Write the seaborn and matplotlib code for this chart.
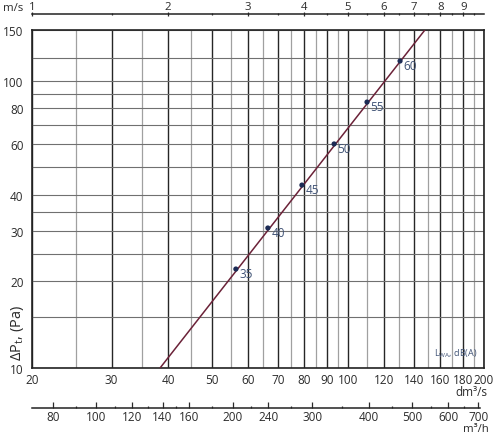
import numpy as np
import pandas as pd
import matplotlib
matplotlib.use('Agg')
import matplotlib.pyplot as plt
import seaborn as sns
from matplotlib.ticker import FixedLocator, NullFormatter

# ---- data ----
flow_line = [38.4, 148.0]          # dm3/s
dp_line = [10.0, 150.0]            # Pa
flow_pts = [56.5, 66.5, 79.1, 93.2, 110.2, 130.4]
dp_pts = [22.1, 30.7, 43.3, 60.2, 84.2, 117.0]
lwa_labels = ['35', '40', '45', '50', '55', '60']

x_major = [20, 30, 40, 50, 60, 70, 80, 90, 100, 120, 140, 160, 180, 200]
x_minor = [25, 35, 45, 55, 65, 75, 85, 95, 110, 130, 150, 170, 190]
y_ticks = [10, 20, 30, 40, 60, 80, 100, 150]
y_minor = [15, 25, 35, 50, 70, 90, 120]
v_major = [1, 2, 3, 4, 5, 6, 7, 8, 9]
v_minor = [1.5, 2.5, 3.5, 4.5, 5.5, 6.5, 7.5, 8.5, 9.5]
q_major = [80, 100, 120, 140, 160, 200, 240, 300, 400, 500, 600, 700]
q_minor = [90, 110, 130, 150, 180, 220, 270, 350, 450, 550, 650]

sns.set_style('white')
plt.rcParams['font.family'] = ['Open Sans', 'DejaVu Sans']
plt.rcParams['mathtext.fontset'] = 'custom'
plt.rcParams['mathtext.rm'] = 'Open Sans'
plt.rcParams['mathtext.it'] = 'Open Sans'

TXT = '#2b2b2b'
FS = 8.5
LINE_C = '#6b2238'
DOT_C = '#1c2b55'
LBL_C = '#3f5275'

fig = plt.figure(figsize=(5.0, 4.35), dpi=100)
W, H = 500, 435
L, R, T, B = 32, 484, 31, 369
ax = fig.add_axes([L / W, 1 - B / H, (R - L) / W, (B - T) / H])

line_df = pd.DataFrame({'flow': flow_line, 'dp': dp_line})
pts_df = pd.DataFrame({'flow': flow_pts, 'dp': dp_pts, 'lab': lwa_labels})

ax.set_xscale('log')
ax.set_yscale('log')

sns.lineplot(data=line_df, x='flow', y='dp', ax=ax, color=LINE_C, lw=1.1, zorder=5)
sns.scatterplot(data=pts_df, x='flow', y='dp', ax=ax, color=DOT_C, s=14,
                edgecolor='none', zorder=6)
for f, d, lab in zip(flow_pts, dp_pts, lwa_labels):
    ax.annotate(lab, (f, d), xytext=(2.5, -3.5), textcoords='offset points',
                ha='left', va='center', fontsize=FS, color=LBL_C, zorder=7)

ax.set_xlim(20, 200)
ax.set_ylim(10, 150)
ax.set_xlabel('')
ax.set_ylabel('')

# x ticks and grid
ax.xaxis.set_major_locator(FixedLocator(x_major))
ax.xaxis.set_minor_locator(FixedLocator(x_minor))
ax.set_xticklabels([str(v) for v in x_major])
ax.xaxis.set_minor_formatter(NullFormatter())
ax.yaxis.set_major_locator(FixedLocator(y_ticks))
ax.yaxis.set_minor_locator(FixedLocator(y_minor))
ax.set_yticklabels([str(v) for v in y_ticks])
ax.yaxis.set_minor_formatter(NullFormatter())

ax.grid(True, axis='x', which='major', color='#262626', lw=1.0)
ax.grid(True, axis='x', which='minor', color='#a0a0a0', lw=0.9)
ax.grid(True, axis='y', which='both', color='#707070', lw=0.8)

ax.tick_params(axis='x', which='major', direction='inout', length=4, width=0.9,
               colors=TXT, labelsize=FS, pad=1.5)
ax.tick_params(axis='y', which='major', direction='out', length=5, width=0.9,
               colors=TXT, labelsize=FS, pad=1)
ax.tick_params(which='minor', length=0)
for s in ax.spines.values():
    s.set_visible(True)
    s.set_color('#222222')
    s.set_linewidth(1.2)

# top velocity axis
top = ax.secondary_xaxis(1 + 15.5 / (B - T), functions=(lambda x: x / 20.0, lambda v: v * 20.0))
top.set_xticks(v_major, labels=[str(v) for v in v_major])
top.set_xticks(v_minor, minor=True)
top.xaxis.set_minor_formatter(NullFormatter())
top.tick_params(which='major', direction='inout', length=3, width=0.9, colors=TXT,
                labelsize=8.2, pad=0)
top.tick_params(which='minor', direction='inout', length=2, width=0.9, colors=TXT)
top.spines['top'].set_color('#222222')
top.spines['top'].set_linewidth(1.1)
fig.text(3 / W, 1 - 8.5 / H, 'm/s', ha='left', va='center', fontsize=8.2, color=TXT)

# bottom m3/h axis
bot = ax.secondary_xaxis(-40.0 / (B - T), functions=(lambda x: x * 3.6, lambda q: q / 3.6))
bot.set_xticks(q_major, labels=[str(v) for v in q_major])
bot.set_xticks(q_minor, minor=True)
bot.xaxis.set_minor_formatter(NullFormatter())
bot.tick_params(which='major', direction='in', length=4, width=0.9, colors=TXT,
                labelsize=FS, pad=1.5)
bot.tick_params(which='minor', direction='in', length=1.5, width=0.9, colors=TXT)
bot.spines['bottom'].set_color('#222222')
bot.spines['bottom'].set_linewidth(1.1)
bot.spines['bottom'].set_bounds(72, 706)

# unit labels
fig.text(487 / W, 1 - 393 / H, 'dm³/s', ha='right', va='center', fontsize=FS, color=TXT)
fig.text(489 / W, 0.0, 'm³/h', ha='right', va='bottom', fontsize=8.2, color=TXT)
ax.text(0.985, 0.045, r'L$_{\mathrm{WA}}$, dB(A)', transform=ax.transAxes,
        ha='right', va='center', fontsize=6.5, color=LBL_C)

# y label
fig.text(17 / W, 1 - 361 / H, r'$\Delta$P$_{\mathrm{t}}$, (Pa)', rotation=90,
         ha='center', va='bottom', fontsize=10.5, color=TXT)

fig.savefig('out.png', dpi=100)
